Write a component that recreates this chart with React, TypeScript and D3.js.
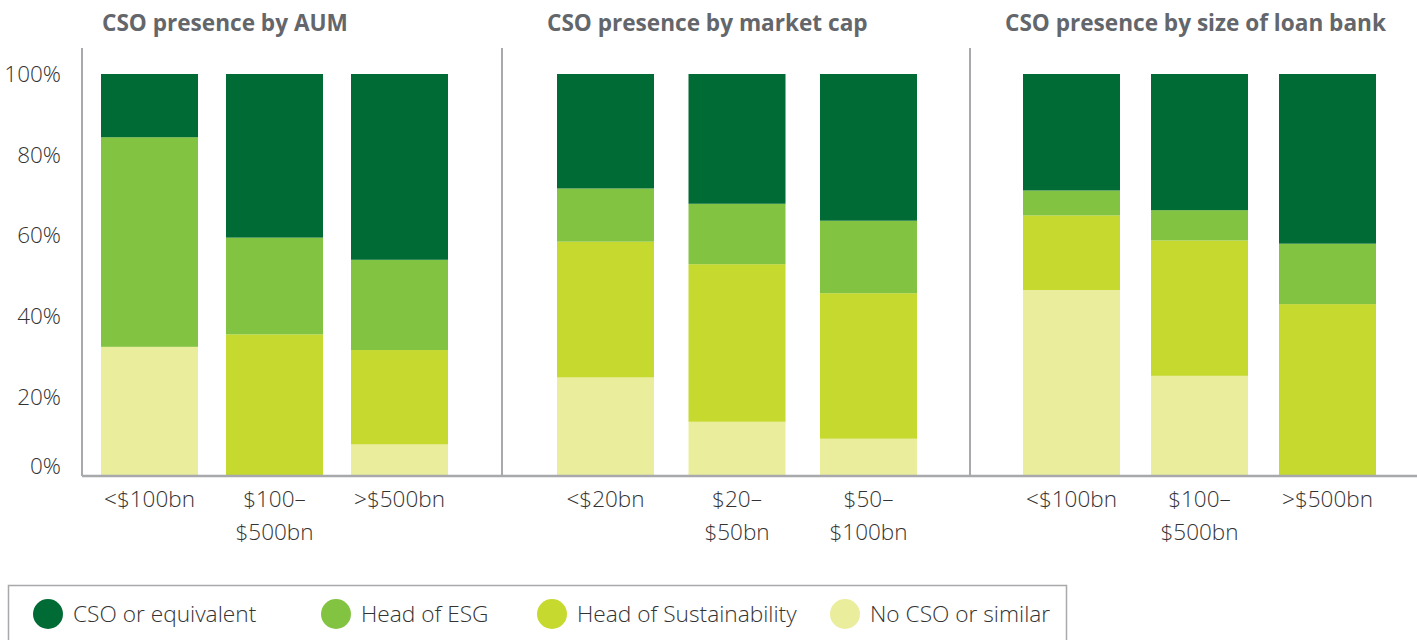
import React from "react";
import * as d3 from "d3";

const seriesKeys = ["none", "sust", "esg", "cso"];
const seriesLabels = ["CSO or equivalent", "Head of ESG", "Head of Sustainability", "No CSO or similar"];
const legendKeys = ["cso", "esg", "sust", "none"];
const colors: Record<string, string> = {
  cso: "#006B35",
  esg: "#82C341",
  sust: "#C6D92E",
  none: "#EAED9C",
};

const panelTitles = ["CSO presence by AUM", "CSO presence by market cap", "CSO presence by size of loan bank"];

const aumCats = [["<$100bn"], ["$100–", "$500bn"], [">$500bn"]];
const aumCso = [15.7, 40.6, 46.1];
const aumEsg = [52.0, 24.0, 22.4];
const aumSust = [0, 35.4, 23.4];
const aumNone = [32.3, 0, 8.1];

const capCats = [["<$20bn"], ["$20–", "$50bn"], ["$50–", "$100bn"]];
const capCso = [28.4, 32.2, 36.4];
const capEsg = [13.2, 15.0, 18.0];
const capSust = [33.7, 39.1, 36.1];
const capNone = [24.7, 13.7, 9.5];

const loanCats = [["<$100bn"], ["$100–", "$500bn"], [">$500bn"]];
const loanCso = [28.9, 33.8, 42.1];
const loanEsg = [6.2, 7.5, 15.0];
const loanSust = [18.5, 33.6, 42.9];
const loanNone = [46.4, 25.1, 0];

const yTicks = [0, 20, 40, 60, 80, 100];

const panels = [
  { title: panelTitles[0], cats: aumCats, cso: aumCso, esg: aumEsg, sust: aumSust, none: aumNone },
  { title: panelTitles[1], cats: capCats, cso: capCso, esg: capEsg, sust: capSust, none: capNone },
  { title: panelTitles[2], cats: loanCats, cso: loanCso, esg: loanEsg, sust: loanSust, none: loanNone },
];

// layout
const W = 1417;
const H = 640;
const panelRanges: [number, number][] = [
  [101, 448],
  [557, 917],
  [1023, 1376],
];
const barW = 97;
const titleX = [102, 547, 1005];
const separators = [82, 502, 970];
const axisY = 476;

const FONT = "'Open Sans', 'Noto Sans', sans-serif";

export default function App() {
  const y = d3.scaleLinear().domain([0, 100]).range([477, 74]);
  const stack = d3.stack<any>().keys(seriesKeys);

  return (
    <svg width={W} height={H} style={{ position: "absolute", left: 0, top: 0, background: "#fff" }} fontFamily={FONT}>
      {/* titles */}
      {panels.map((p, i) => (
        <text key={"t" + i} x={titleX[i]} y={31} fontSize={22.6} fontWeight={700} fill="#63666A">
          {p.title}
        </text>
      ))}

      {/* y ticks */}
      {yTicks.map((t) => (
        <text
          key={"y" + t}
          x={61}
          y={y(t) + (t === 0 ? -11 : 0)}
          dy="0.36em"
          textAnchor="end"
          fontSize={22.5}
          fontWeight={300}
          fill="#333"
        >
          {d3.format(".0f")(t)}%
        </text>
      ))}

      {/* bars */}
      {panels.map((p, pi) => {
        const rows = p.cats.map((c, i) => ({
          cat: c.join(" "),
          cso: p.cso[i],
          esg: p.esg[i],
          sust: p.sust[i],
          none: p.none[i],
        }));
        const [r0, r1] = panelRanges[pi];
        const x = d3.scalePoint<string>().domain(rows.map((r) => r.cat)).range([r0 + barW / 2, r1 - barW / 2]);
        const stacked = stack(rows);
        return (
          <g key={"p" + pi}>
            {stacked.map((s) => (
              <g key={s.key} fill={colors[s.key]}>
                {s.map((d, i) =>
                  d[1] - d[0] > 0 ? (
                    <rect
                      key={i}
                      x={(x(rows[i].cat) as number) - barW / 2}
                      y={y(d[1])}
                      width={barW}
                      height={y(d[0]) - y(d[1])}
                    />
                  ) : null
                )}
              </g>
            ))}
            {p.cats.map((c, i) => (
              <text key={"c" + i} x={x(rows[i].cat) as number} y={507} textAnchor="middle" fontSize={22.5} fontWeight={300} fill="#333">
                {c.map((line, li) => (
                  <tspan key={li} x={x(rows[i].cat) as number} dy={li === 0 ? 0 : 33}>
                    {line}
                  </tspan>
                ))}
              </text>
            ))}
          </g>
        );
      })}

      {/* separators and axis */}
      {separators.map((sx) => (
        <line key={"s" + sx} x1={sx} x2={sx} y1={48} y2={axisY} stroke="#A7A9AC" strokeWidth={2} />
      ))}
      <line x1={82} x2={W} y1={axisY} y2={axisY} stroke="#A7A9AC" strokeWidth={2.5} />

      {/* legend */}
      <rect x={8.5} y={585.5} width={1058} height={70} fill="none" stroke="#A7A9AC" strokeWidth={1.5} />
      {legendKeys.map((k, i) => {
        const cx = [48, 336, 552, 845][i];
        return (
          <g key={"l" + k}>
            <circle cx={cx} cy={614} r={15} fill={colors[k]} />
            <text x={cx + 25} y={614} dy="0.36em" fontSize={22.7} fontWeight={300} fill="#333">
              {seriesLabels[i]}
            </text>
          </g>
        );
      })}
    </svg>
  );
}
